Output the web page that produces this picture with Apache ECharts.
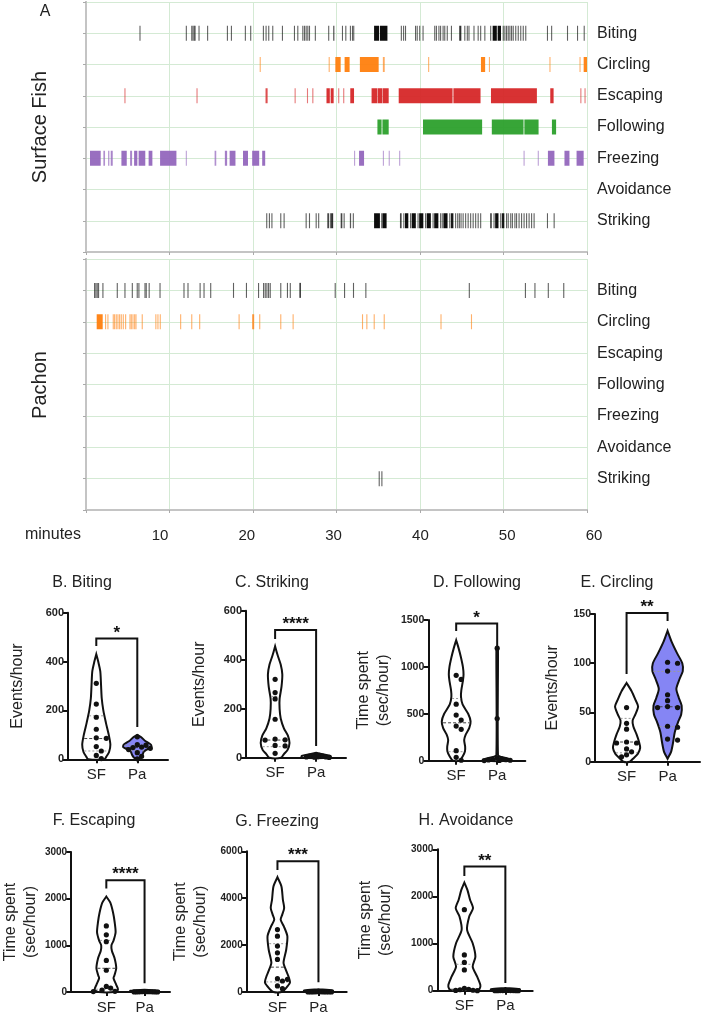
<!DOCTYPE html>
<html><head><meta charset="utf-8">
<script src="https://cdn.jsdelivr.net/npm/echarts@6.0.0/dist/echarts.min.js"></script>
<style>html,body{margin:0;padding:0;background:#fff}#c{width:702px;height:1015px}</style>
</head><body><div id="c"></div>
<script>
// ---------------- DATA ----------------
const behaviors = ['Biting','Circling','Escaping','Following','Freezing','Avoidance','Striking'];
const minuteTicks = [10,20,30,40,50,60];
const groupNames = ['SF','Pa'];
const fishNames = ['Surface Fish','Pachon'];

// Ethogram events (minutes): a number = brief event, [start,end] = bout
const sfBiting = [6.4,11.95,12.6,12.75,12.9,[13.0,13.1],13.47,14.5,16.87,17.35,19.02,19.66,21.18,21.5,21.82,22.3,23.46,24.9,25.3,25.9,26.1,26.3,26.5,26.7,27.4,29.0,[29.6,29.75],30.65,31.05,31.6,31.85,[32.0,32.1],[34.5,35.1],[35.2,36.1],37.7,37.97,38.2,39.4,39.6,39.9,40.3,41.7,41.9,42.2,42.4,42.7,42.9,43.2,43.7,[44.7,44.95],45.3,45.6,45.8,46.4,46.9,47.2,47.7,48.4,[48.7,49.2],[49.3,49.7],49.9,50.1,50.3,50.5,50.7,50.9,51.1,51.4,51.7,52.0,52.3,52.6,55.2,55.7,57.6,58.8,59.6];
const sfCircling = [20.8,29.06,[29.86,30.5],[30.97,31.57],[32.8,35.05],35.55,35.65,40.97,[47.3,47.8],48.25,55.5,59.1,[59.6,60]];
const sfEscaping = [4.6,13.23,[21.5,21.75],24.98,26.46,27.1,[28.8,29.2],[29.3,29.66],30.2,30.8,[31.65,32.1],[34.2,34.9],[34.95,35.5],[35.55,36.25],[37.45,43.9],[44.0,47.25],[48.5,54.0],[55.6,56.0],59.2,59.7];
const sfFollowing = [[34.9,35.4],[35.5,36.25],[40.36,47.44],[48.6,52.4],[52.5,54.2],[55.8,56.3]];
const sfFreezing = [[0.48,1.76],[2.08,2.28],[2.64,2.8],[2.96,3.2],[4.24,4.88],[5.28,5.52],[5.76,6.15],[6.3,7.1],[7.5,7.95],[8.87,10.83],11.95,[15.4,15.6],[16.63,16.9],[17.2,17.9],[18.8,19.4],[19.9,20.74],[21.1,21.46],32.1,[32.7,33.3],35.55,36.25,37.5,52.4,54.1,[55.32,56.1],[57.3,57.9],[58.75,59.6]];
const sfAvoidance = [];
const sfStriking = [21.58,21.9,22.2,23.26,23.66,26.3,26.7,27.5,27.8,[28.9,29.1],29.2,[29.35,29.6],[30.5,30.7],30.85,[31.6,31.75],31.95,[34.5,35.2],35.35,[35.5,36.0],[37.6,37.8],38.0,[38.2,38.6],38.8,[39.0,39.5],39.7,[39.9,40.4],40.6,[40.8,41.3],41.5,[41.7,42.2],42.4,42.6,[42.8,43.3],43.5,[43.7,44.0],44.2,44.45,44.65,44.85,45.1,45.4,45.7,46.0,46.3,46.6,46.9,47.2,[48.4,48.6],48.8,[49.0,49.4],49.6,[49.8,50.1],50.3,50.5,50.8,51.0,51.3,51.5,51.8,52.1,52.4,52.7,53.0,53.3,53.6,55.2,56.0];

const paBiting = [0.96,1.12,1.28,1.44,1.96,3.68,4.6,5.48,6.07,6.27,7.0,7.15,7.5,8.8,11.67,12.15,13.6,14.07,14.87,17.6,19.15,20.6,21.2,21.4,21.6,21.8,22.0,23.26,24.06,24.4,[25.55,25.75],29.78,30.9,31.97,33.45,45.84,52.56,53.7,55.3,57.15];
const paCircling = [[1.28,2.0],2.28,2.56,3.2,3.36,3.56,3.76,3.96,4.16,4.4,4.68,5.2,5.36,5.56,5.76,5.92,6.67,8.3,8.55,8.83,11.27,12.6,13.55,18.27,[19.9,20.14],20.74,23.26,24.74,33.05,33.57,34.45,35.65,42.45,46.1];
const paEscaping = [];
const paFollowing = [];
const paFreezing = [];
const paAvoidance = [];
const paStriking = [35.05,35.37];

// Violin panels
const panelTitles = ['B. Biting','C. Striking','D. Following','E. Circling','F. Escaping','G. Freezing','H. Avoidance'];
const panelYNames = ['Events/hour','Events/hour','Time spent\n(sec/hour)','Events/hour','Time spent\n(sec/hour)','Time spent\n(sec/hour)','Time spent\n(sec/hour)'];
const panelYMax = [600,600,1500,150,3000,6000,3000];
const panelYStep = [200,200,500,50,1000,2000,1000];
const sigStars = ['*','****','*','**','****','***','**'];
// bracket: [top, left leg end, right leg end] in axis units
const bracketLevels = [[494,464,132],[521,484,48],[1462,1383,1199],[151,89,143],[2395,2220,190],[5575,5206,412],[2633,2435,163]];

// individual fish values
const dotsBitingSF = [311,226,172,123,88,86,52,34,16,3];
const dotsBitingPa = [92,60,58,50,48,45,40,27,12,2];
const dotsStrikingSF = [320,266,240,157,76,73,72,50,48,18];
const dotsStrikingPa = [12,10,8,6,5,4,3,3,2,1];
const dotsFollowingSF = [910,866,603,486,433,369,334,107,36,5];
const dotsFollowingPa = [1200,450,30,20,15,10,8,5,3,1];
const dotsCirclingSF = [55,39,33,20,19,19,13,10,7,5];
const dotsCirclingPa = [101,100,92,68,62,56,55,55,36,35,23,22];
const dotsEscapingSF = [1416,1226,1078,677,466,120,85,40,15,10];
const dotsEscapingPa = [10,8,6,5,4,3,2,2,1,0];
const dotsFreezingSF = [2660,2380,1960,1670,1390,570,540,470,260,140];
const dotsFreezingPa = [10,8,6,5,4,3,2,2,1,0];
const dotsAvoidanceSF = [1720,760,600,440,50,30,20,10,5,0];
const dotsAvoidancePa = [5,4,3,3,2,2,1,1,0,0];

// violin outlines: [value, relative density]
const shapeBitingSF = [[430,0],[400,0.12],[360,0.25],[300,0.3],[250,0.34],[200,0.44],[150,0.6],[100,0.78],[60,0.88],[30,0.8],[10,0.62],[0,0.5]];
const shapeBitingPa = [[100,0],[90,0.25],[75,0.5],[60,0.85],[50,0.88],[40,0.6],[31,0.4],[22,0.35],[15,0.3],[5,0.18],[0,0]];
const shapeStrikingSF = [[455,0],[420,0.15],[380,0.35],[340,0.45],[290,0.4],[240,0.28],[200,0.28],[160,0.35],[120,0.55],[90,0.8],[60,0.9],[32,0.78],[15,0.55],[0,0.37]];
const shapeStrikingPa = [[20,0],[14,0.45],[7,0.9],[0,0.9]];
const shapeFollowingSF = [[1285,0],[1200,0.15],[1100,0.3],[1000,0.42],[920,0.46],[850,0.42],[750,0.32],[680,0.3],[600,0.4],[500,0.75],[420,0.9],[350,0.82],[280,0.6],[220,0.5],[150,0.56],[100,0.55],[50,0.42],[0,0.2]];
const shapeFollowingPa = [[1215,0],[1200,0.05],[60,0.05],[40,0.25],[20,0.75],[0,0.75]];
const shapeCirclingSF = [[80,0],[72,0.3],[63,0.55],[56,0.72],[48,0.55],[42,0.38],[36,0.42],[28,0.62],[20,0.78],[14,0.85],[8,0.7],[3,0.4],[0,0.2]];
const shapeCirclingPa = [[133,0],[122,0.25],[110,0.6],[100,0.92],[92,0.95],[84,0.75],[74,0.55],[65,0.7],[57,0.88],[48,0.85],[40,0.65],[30,0.45],[20,0.35],[10,0.22],[3,0]];
const shapeEscapingSF = [[2045,0],[1915,0.25],[1705,0.42],[1500,0.52],[1280,0.58],[1100,0.45],[1000,0.32],[880,0.35],[718,0.52],[507,0.62],[350,0.5],[296,0.45],[155,0.62],[50,0.73],[0,0.5]];
const shapeEscapingPa = [[50,0],[25,0.9],[0,0.9]];
const shapeFreezingSF = [[4900,0],[4500,0.25],[3930,0.34],[3580,0.42],[3300,0.3],[3086,0.2],[2800,0.4],[2380,0.62],[1813,0.55],[1247,0.38],[900,0.55],[681,0.68],[400,0.78],[117,0.47],[0,0.25]];
const shapeFreezingPa = [[120,0],[60,0.9],[0,0.9]];
const shapeAvoidanceSF = [[2295,0],[2138,0.19],[1925,0.36],[1749,0.54],[1570,0.3],[1289,0.17],[1006,0.52],[722,0.69],[510,0.52],[297,0.8],[120,1.0],[40,0.95],[0,0.75]];
const shapeAvoidancePa = [[60,0],[30,0.9],[0,0.9]];

// quartile lines [Q1, median, Q3] (null = not drawn)
const quartBitingSF = [34,85,178], quartBitingPa = [35,48,58];
const quartStrikingSF = [45,72,250], quartStrikingPa = null;
const quartFollowingSF = [96,404,663], quartFollowingPa = null;
const quartCirclingSF = [9,20,44], quartCirclingPa = [35.6,55.8,91.7];
const quartEscapingSF = [60,508,1106], quartEscapingPa = null;
const quartFreezingSF = [430,1060,2060], quartFreezingPa = null;
const quartAvoidanceSF = [8,30,560], quartAvoidancePa = null;

// ---------------- LAYOUT / STYLE ----------------
const FONT = '"Liberation Sans", Arial, Helvetica, sans-serif';
const behaviorColors = ['#000000','#ff7f0e','#d62728','#2ca02c','#9467bd','#888888','#000000'];
const GRID_GREEN = '#d4ead4';
const FRAME = '#c4c4c4';
const PURPLE = '#8585f4';
const VW = 16; // px half-width for relative density 1
const SPACING = 41; // px between SF and Pa

const etho = [
  {left:86, top:2, width:501, height:250},
  {left:86, top:259, width:501, height:251}
];
const panels = [
  {left:68, top:612.7, width:100, height:146.6, sfAt:0.69, gap:40, fs:11, tx:82, ty:583, dots:[dotsBitingSF,dotsBitingPa], shapes:[shapeBitingSF,shapeBitingPa], quart:[quartBitingSF,quartBitingPa], fills:['#fff',PURPLE]},
  {left:246, top:610.7, width:100, height:147, sfAt:0.71, gap:36, fs:11, tx:272, ty:583, dots:[dotsStrikingSF,dotsStrikingPa], shapes:[shapeStrikingSF,shapeStrikingPa], quart:[quartStrikingSF,quartStrikingPa], fills:['#fff','#fff']},
  {left:428.3, top:620, width:97, height:140.7, sfAt:0.68, gap:35, fs:10.5, tx:477, ty:583, dots:[dotsFollowingSF,dotsFollowingPa], shapes:[shapeFollowingSF,shapeFollowingPa], quart:[quartFollowingSF,quartFollowingPa], fills:['#fff','#fff']},
  {left:595, top:614, width:105, height:147.7, sfAt:0.77, gap:32, fs:10.5, tx:617, ty:583, dots:[dotsCirclingSF,dotsCirclingPa], shapes:[shapeCirclingSF,shapeCirclingPa], quart:[quartCirclingSF,quartCirclingPa], fills:['#fff',PURPLE]},
  {left:64, top:852, width:106, height:142, sfAt:0.92, gap:24, fs:10, tx:94, ty:821, dots:[dotsEscapingSF,dotsEscapingPa], shapes:[shapeEscapingSF,shapeEscapingPa], quart:[quartEscapingSF,quartEscapingPa], fills:['#fff','#fff']},
  {left:246.7, top:851.3, width:100, height:141.4, sfAt:0.75, gap:36, fs:10, tx:277, ty:822, dots:[dotsFreezingSF,dotsFreezingPa], shapes:[shapeFreezingSF,shapeFreezingPa], quart:[quartFreezingSF,quartFreezingPa], fills:['#fff','#fff']},
  {left:437.3, top:849.3, width:95.4, height:141.4, sfAt:0.66, gap:42, fs:10, tx:466, ty:821, dots:[dotsAvoidanceSF,dotsAvoidancePa], shapes:[shapeAvoidanceSF,shapeAvoidancePa], quart:[quartAvoidanceSF,quartAvoidancePa], fills:['#fff','#fff']}
];

const sfEvents = [sfBiting,sfCircling,sfEscaping,sfFollowing,sfFreezing,sfAvoidance,sfStriking];
const paEvents = [paBiting,paCircling,paEscaping,paFollowing,paFreezing,paAvoidance,paStriking];

// ---------------- BUILD ----------------
const grids = [], xAxes = [], yAxes = [], series = [], graphics = [];

function ethoAxes(gi) {
  xAxes.push({gridIndex:gi, type:'value', min:0, max:60, interval:10,
    axisLine:{lineStyle:{color:'#b0b0b0', width:2}},
    axisTick:{show:true, length:3, lineStyle:{color:'#aaa'}},
    axisLabel:{show:false},
    splitLine:{show:true, lineStyle:{color:GRID_GREEN, width:1}}});
  xAxes.push({gridIndex:gi, type:'value', position:'top', min:0, max:60, interval:10,
    axisLine:{lineStyle:{color:FRAME, width:2}}, axisTick:{show:false}, axisLabel:{show:false}, splitLine:{show:false}});
  yAxes.push({gridIndex:gi, type:'value', min:0, max:8, interval:1,
    axisLine:{lineStyle:{color:'#b0b0b0', width:2}},
    axisTick:{show:true, length:3, lineStyle:{color:'#aaa'}},
    axisLabel:{show:false},
    splitLine:{show:true, lineStyle:{color:GRID_GREEN, width:1}}});
  yAxes.push({gridIndex:gi, type:'value', position:'right', min:0, max:8, interval:1,
    axisLine:{lineStyle:{color:FRAME, width:2}}, axisTick:{show:false}, splitLine:{show:false},
    axisLabel:{show:true, margin:10, fontSize:16, color:'#222', fontFamily:FONT,
      formatter:v => (v>=1 && v<=7) ? behaviors[7-v] : ''}});
}

function eventRender(color) {
  return function(params, api) {
    const p0 = api.coord([api.value(0), api.value(2)]);
    const p1 = api.coord([api.value(1), api.value(2)]);
    const w = Math.max(p1[0]-p0[0], 1.1);
    const alpha = Math.min(0.95, 0.4 + 0.2*w);
    return {type:'rect', shape:{x:p0[0], y:p0[1]-7.5, width:w, height:15},
      style:{fill:color, opacity:alpha}};
  };
}

[sfEvents, paEvents].forEach((evs, gi) => {
  grids.push(Object.assign({show:false}, etho[gi]));
  ethoAxes(gi);
  evs.forEach((list, bi) => {
    const row = 7 - bi;
    const data = list.map(e => Array.isArray(e) ? [e[0], e[1], row] : [e, e+0.12, row]);
    series.push({type:'custom', xAxisIndex:gi*2, yAxisIndex:gi*2, clip:true,
      renderItem:eventRender(behaviorColors[bi]), encode:{x:[0,1], y:2}, data, silent:true, animation:false});
  });
});

// minutes label row
grids.push({show:false, left:73.2, top:259, width:520.8, height:251});
xAxes.push({gridIndex:2, type:'value', min:0, max:60, interval:10,
  axisLine:{show:false}, axisTick:{show:false}, splitLine:{show:false},
  axisLabel:{show:true, customValues:minuteTicks, margin:18, fontSize:15, color:'#222', fontFamily:FONT}});
yAxes.push({gridIndex:2, type:'value', show:false});

function widthAt(prof, q) {
  for (let i = 0; i < prof.length-1; i++) {
    const a = prof[i], b = prof[i+1];
    if (q <= a[0] && q >= b[0]) {
      const t = (a[0]-q)/((a[0]-b[0])||1);
      return a[1] + t*(b[1]-a[1]);
    }
  }
  return prof[prof.length-1][1];
}

function violinRender(P, pi) {
  return function(params, api) {
    const children = [];
    [0,1].forEach(g => {
      const xc = P.sfAt + g;
      const cx = api.coord([xc, 0])[0];
      const prof = P.shapes[g];
      const right = prof.map(([v,w]) => [cx + w*VW, api.coord([xc, v])[1]]);
      const left = prof.slice().reverse().map(([v,w]) => [cx - w*VW, api.coord([xc, v])[1]]);
      children.push({type:'polygon', shape:{points:right.concat(left), smooth:0.25},
        style:{fill:P.fills[g], stroke:'#111', lineWidth:2}, z2:1});
      const q = P.quart[g];
      if (q) {
        q.forEach((val, k) => {
          const hw = widthAt(prof, val)*VW - 1;
          const y = api.coord([xc, val])[1];
          children.push({type:'line', shape:{x1:cx-hw, y1:y, x2:cx+hw, y2:y},
            style:{stroke: k===1 ? '#444' : '#9a9a9a', lineWidth:1, lineDash: k===1 ? [3,2] : [2,2]}, z2:2});
        });
      }
      // beeswarm placement of dots, compressed to stay within the violin's widest part
      const placed = [];
      const vals = P.dots[g].slice().sort((a,b)=>b-a);
      const step = 5, D = 5.2;
      vals.forEach(v => {
        const y = api.coord([xc, v])[1];
        let off = 0;
        for (let k = 0; k < 40; k++) {
          const cand = k===0 ? 0 : (k%2 ? 1 : -1)*Math.ceil(k/2)*step;
          if (placed.every(p => Math.hypot(p[0]-cand, p[1]-y) >= D)) { off = cand; break; }
        }
        placed.push([off, y]);
      });
      const cap = 13;
      const maxOff = Math.max(...placed.map(p => Math.abs(p[0])));
      const sc = maxOff > cap ? cap/maxOff : 1;
      placed.forEach(p => children.push({type:'circle', shape:{cx:cx + p[0]*sc, cy:p[1], r:2.6}, style:{fill:'#111'}, z2:3}));
    });
    // bracket
    const br = bracketLevels[pi];
    const xs = P.sfAt, xp = P.sfAt + 1;
    const a = api.coord([xs, br[1]]), b = api.coord([xs, br[0]]), c = api.coord([xp, br[0]]), d = api.coord([xp, br[2]]);
    children.push({type:'polyline', shape:{points:[a,b,c,d]}, style:{stroke:'#111', lineWidth:2, fill:null}, z2:4});
    children.push({type:'text', x:(b[0]+c[0])/2, y:b[1]+3, style:{text:sigStars[pi], align:'center', verticalAlign:'bottom',
      font:'bold 17px ' + FONT, fill:'#111'}, z2:4});
    return {type:'group', children};
  };
}

panels.forEach((P, pi) => {
  const gi = grids.length;
  grids.push({show:false, left:P.left, top:P.top, width:P.width, height:P.height});
  const xMax = P.width/SPACING;
  const cats = [P.sfAt, P.sfAt+1];
  xAxes.push({gridIndex:gi, type:'value', min:0, max:xMax,
    axisLine:{show:true, onZero:false, lineStyle:{color:'#111', width:2}},
    axisTick:{show:true, customValues:cats, length:4, lineStyle:{color:'#111', width:2}},
    axisLabel:{show:true, customValues:cats, formatter:v => groupNames[Math.round(v - P.sfAt)],
      margin:8, fontSize:15, color:'#222', fontFamily:FONT},
    splitLine:{show:false}});
  yAxes.push({gridIndex:gi, type:'value', min:0, max:panelYMax[pi], interval:panelYStep[pi],
    axisLine:{show:true, lineStyle:{color:'#111', width:2}},
    axisTick:{show:true, length:5, lineStyle:{color:'#111', width:2}},
    axisLabel:{show:true, fontSize:P.fs, fontWeight:'bold', color:'#222', margin:4, fontFamily:FONT,
      formatter:v => String(v)},
    splitLine:{show:false},
    name:panelYNames[pi], nameLocation:'middle', nameGap:P.gap,
    nameTextStyle:{fontSize:16, color:'#222', lineHeight:20, fontFamily:FONT}});
  series.push({type:'custom', xAxisIndex:xAxes.length-1, yAxisIndex:yAxes.length-1, clip:false,
    renderItem:violinRender(P, pi), data:[[0,0]], silent:true, animation:false});
  graphics.push({type:'text', x:P.tx, y:P.ty, style:{text:panelTitles[pi], align:'center', verticalAlign:'middle',
    font:'16px ' + FONT, fill:'#222'}});
});

graphics.push({type:'text', x:45, y:12, style:{text:'A', align:'center', verticalAlign:'middle', font:'16px ' + FONT, fill:'#222'}});
graphics.push({type:'text', x:40, y:127, rotation:Math.PI/2, style:{text:fishNames[0], align:'center', verticalAlign:'middle', font:'20px ' + FONT, fill:'#222'}});
graphics.push({type:'text', x:40, y:385, rotation:Math.PI/2, style:{text:fishNames[1], align:'center', verticalAlign:'middle', font:'20px ' + FONT, fill:'#222'}});
graphics.push({type:'text', x:53, y:535, style:{text:'minutes', align:'center', verticalAlign:'middle', font:'16px ' + FONT, fill:'#222'}});

const chart = echarts.init(document.getElementById('c'), null, {renderer:'canvas'});
chart.setOption({animation:false, backgroundColor:'#fff', grid:grids, xAxis:xAxes, yAxis:yAxes, series, graphic:graphics});
</script></body></html>
